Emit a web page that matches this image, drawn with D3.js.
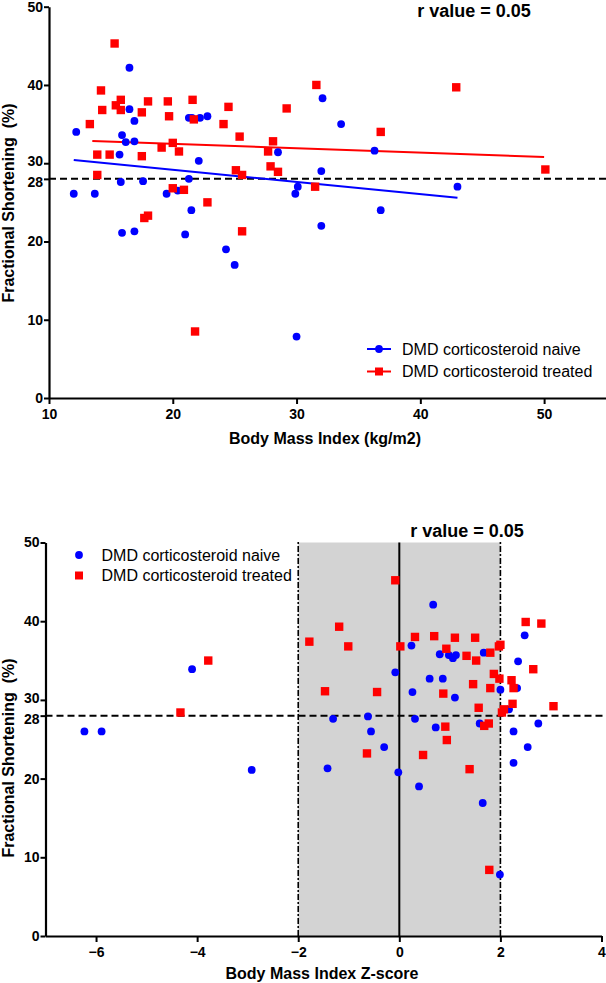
<!DOCTYPE html>
<html>
<head>
<meta charset="utf-8">
<script src="https://cdn.jsdelivr.net/npm/d3@7"></script>
<style>
  body { margin: 0; background: #fff; }
  svg { display: block; }
  text { font-family: "Liberation Sans", Arial, sans-serif; }
</style>
</head>
<body>
<svg id="chart" width="606" height="983"></svg>
<script>
// ---------- DATA ----------
const seriesNames = ["DMD corticosteroid naive", "DMD corticosteroid treated"];
const rText = "r value = 0.05";
const threshold = 28;

// Panel A: BMI (kg/m2) vs fractional shortening (%)
const naiveBMI = [
  [12.0,26.1],[12.2,34.0],[13.7,26.1],[15.7,31.1],[15.9,33.6],[15.8,27.6],[15.9,21.1],
  [16.2,32.7],[16.5,42.2],[16.5,36.9],[16.9,35.4],[16.9,32.8],[16.9,21.3],[17.6,27.7],
  [19.5,26.1],[20.4,26.5],[21.0,20.9],[21.3,28.0],[21.5,24.0],[21.3,35.8],[21.55,35.8],
  [22.2,35.8],[22.8,36.0],[22.1,30.3],[24.3,19.0],[25.0,17.0],[28.5,31.4],[29.9,26.1],
  [30.1,27.0],[30.0,7.85],[32.0,29.0],[32.1,38.3],[32.0,22.0],[33.6,35.0],[36.3,31.6],
  [36.8,24.0],[43.0,27.0]
];
const treatedBMI = [
  [15.3,45.3],[13.3,35.0],[14.2,39.3],[14.3,36.8],[13.9,31.1],[13.9,28.5],[14.9,31.1],
  [15.4,37.4],[15.8,38.1],[15.8,36.8],[17.5,36.5],[17.5,30.9],[17.7,23.0],[18.0,23.3],
  [18.0,37.9],[19.1,32.0],[19.6,37.9],[19.7,36.0],[20.0,32.6],[20.0,26.8],[20.5,31.5],
  [20.9,26.6],[21.6,38.1],[21.7,35.6],[21.8,8.5],[22.8,25.0],[24.1,35.0],[24.5,37.2],
  [25.1,29.1],[25.6,28.5],[25.4,33.4],[25.6,21.3],[27.7,31.5],[27.9,29.6],[28.1,32.8],
  [28.5,28.9],[29.2,37.0],[31.5,27.0],[31.6,40.0],[36.8,34.0],[42.9,39.7],[50.1,29.2]
];
// fitted regression lines (endpoints)
const naiveFit = [[12.0,30.4],[43.0,25.6]];
const treatedFit = [[13.5,32.85],[50.0,30.8]];

// Panel B: BMI Z-score vs fractional shortening (%)
const naiveZ = [
  [-6.23,26.0],[-5.89,26.0],[-4.10,33.9],[-2.92,21.1],[-1.42,21.3],[-1.31,27.6],[-0.62,27.9],
  [-0.56,26.0],[-0.30,24.0],[-0.08,33.5],[-0.02,20.8],[0.24,36.9],[0.26,31.0],[0.31,27.6],
  [0.39,19.0],[0.60,32.7],[0.67,42.1],[0.72,26.5],[0.80,35.8],[0.86,32.7],[0.98,35.7],
  [1.06,35.3],[1.12,35.7],[1.10,30.3],[1.59,27.0],[1.65,16.9],[1.67,36.0],[2.00,31.3],
  [1.99,7.8],[2.17,28.8],[2.26,26.0],[2.26,22.0],[2.35,34.9],[2.33,31.5],[2.48,38.2],
  [2.54,24.0],[2.75,27.0]
];
const treatedZ = [
  [-4.33,28.4],[-3.78,35.0],[-1.78,37.4],[-1.47,31.1],[-1.19,39.3],[-1.01,36.8],[-0.64,23.2],
  [-0.44,31.0],[-0.08,45.2],[0.02,36.8],[0.31,38.0],[0.47,23.0],[0.69,38.1],[0.87,30.8],
  [0.91,26.6],[0.93,36.5],[0.94,24.9],[1.10,37.9],[1.33,35.6],[1.39,21.2],[1.46,32.0],
  [1.50,37.9],[1.52,35.0],[1.57,29.0],[1.68,26.7],[1.77,27.0],[1.78,8.4],[1.80,36.0],
  [1.80,31.5],[1.87,33.3],[1.98,32.7],[2.00,37.0],[1.97,36.8],[2.03,28.4],[2.07,28.8],
  [2.22,32.5],[2.26,31.5],[2.24,29.5],[2.50,39.9],[2.65,33.9],[2.81,39.7],[3.05,29.2]
];
const zBand = [-2, 2];
const zCenter = 0;

const yTicks = [0, 10, 20, 28, 30, 40, 50];
const xTicksBMI = [10, 20, 30, 40, 50];
const xTicksZ = [-6, -4, -2, 0, 2, 4];

// ---------- DRAW ----------
const svg = d3.select("#chart");
const BLUE = "#0000ff", RED = "#ff0000";

function drawPanel(cfg) {
  const g = svg.append("g");
  const x = d3.scaleLinear().domain(cfg.xDomain).range(cfg.xRange);
  const y = d3.scaleLinear().domain([0, 50]).range(cfg.yRange);

  if (cfg.band) {
    g.append("rect")
      .attr("x", x(cfg.band[0])).attr("y", y(50))
      .attr("width", x(cfg.band[1]) - x(cfg.band[0]))
      .attr("height", y(0) - y(50))
      .attr("fill", "#d3d3d3");
    cfg.band.forEach(v => {
      g.append("line")
        .attr("x1", x(v)).attr("x2", x(v))
        .attr("y1", y(0)).attr("y2", y(50) - 2)
        .attr("stroke", "#000").attr("stroke-width", 1.6)
        .attr("stroke-dasharray", "6,2,2,2");
    });
    g.append("line")
      .attr("x1", x(cfg.center)).attr("x2", x(cfg.center))
      .attr("y1", y(0)).attr("y2", y(50))
      .attr("stroke", "#000").attr("stroke-width", 2);
  }

  // threshold dashed line
  g.append("line")
    .attr("x1", cfg.xRange[0]).attr("x2", 606)
    .attr("y1", y(threshold)).attr("y2", y(threshold))
    .attr("stroke", "#000").attr("stroke-width", 2)
    .attr("stroke-dasharray", "7,4");

  // fit lines
  if (cfg.fits) {
    const line = d3.line().x(d => x(d[0])).y(d => y(d[1]));
    cfg.fits.forEach((f, i) => {
      g.append("path").attr("d", line(f))
        .attr("fill", "none").attr("stroke", i === 0 ? BLUE : RED)
        .attr("stroke-width", 2);
    });
  }

  // points
  g.selectAll("circle.n").data(cfg.naive).join("circle")
    .attr("cx", d => x(d[0])).attr("cy", d => y(d[1]))
    .attr("r", 3.9).attr("fill", BLUE);
  const s = 8.4;
  g.selectAll("rect.t").data(cfg.treated).join("rect")
    .attr("x", d => x(d[0]) - s / 2).attr("y", d => y(d[1]) - s / 2)
    .attr("width", s).attr("height", s).attr("fill", RED);

  // axes
  const xAxis = g.append("g").attr("transform", `translate(0,${cfg.yRange[0]})`)
    .call(d3.axisBottom(x).tickValues(cfg.xTicks).tickSize(6).tickSizeOuter(0).tickFormat(d3.format("d")));
  const yAxis = g.append("g").attr("transform", `translate(${cfg.xRange[0]},0)`)
    .call(d3.axisLeft(y).tickValues(yTicks).tickSize(5).tickSizeOuter(0));
  [xAxis, yAxis].forEach(a => {
    a.select(".domain").attr("stroke", "#000").attr("stroke-width", 2.2);
    a.selectAll(".tick line").attr("stroke", "#000").attr("stroke-width", 2);
    a.selectAll(".tick text").attr("fill", "#000")
      .style("font-size", "14px").style("font-weight", "bold")
      .style("font-family", "'Liberation Sans', Arial, sans-serif");
  });
  xAxis.selectAll(".tick text").attr("dy", "0.9em").attr("y", 8);
  yAxis.selectAll(".tick text").attr("x", -6);
  yAxis.selectAll(".tick").filter(d => d === 28).select("text").attr("dy", "0.55em");
  yAxis.selectAll(".tick").filter(d => d === 30).select("text").attr("dy", "0.15em");

  // titles
  g.append("text").attr("x", cfg.titleX).attr("y", cfg.titleY)
    .attr("text-anchor", "middle").style("font-size", "18px").style("font-weight", "bold")
    .text(rText);
  g.append("text").attr("x", cfg.xLabelX).attr("y", cfg.xLabelY)
    .attr("text-anchor", "middle").style("font-size", "16px").style("font-weight", "bold")
    .text(cfg.xLabel);
  g.append("text")
    .attr("transform", `translate(14,${cfg.yLabelY}) rotate(-90)`)
    .attr("text-anchor", "middle").style("font-size", "16px").style("font-weight", "bold")
    .text("Fractional Shortening\u00a0\u00a0(%)");

  // legend
  const lg = g.append("g");
  seriesNames.forEach((name, i) => {
    const ly = cfg.legendY + i * cfg.legendGap;
    if (cfg.legendLines) {
      lg.append("line").attr("x1", cfg.legendX - 12).attr("x2", cfg.legendX + 12)
        .attr("y1", ly).attr("y2", ly)
        .attr("stroke", i === 0 ? BLUE : RED).attr("stroke-width", 2);
    }
    if (i === 0) {
      lg.append("circle").attr("cx", cfg.legendX).attr("cy", ly).attr("r", 3.9).attr("fill", BLUE);
    } else {
      lg.append("rect").attr("x", cfg.legendX - 4).attr("y", ly - 4)
        .attr("width", 8).attr("height", 8).attr("fill", RED);
    }
    lg.append("text").attr("x", cfg.legendTextX).attr("y", ly).attr("dy", "0.35em")
      .style("font-size", "16px").text(name);
  });
}

drawPanel({
  xDomain: [10, 55], xRange: [49, 606], yRange: [398, 6.7],
  naive: naiveBMI, treated: treatedBMI, fits: [naiveFit, treatedFit],
  xTicks: xTicksBMI, xLabel: "Body Mass Index (kg/m2)",
  titleX: 474, titleY: 17, xLabelX: 325, xLabelY: 444, yLabelY: 203,
  legendX: 379, legendY: 349, legendGap: 22.5, legendTextX: 402, legendLines: true
});

drawPanel({
  xDomain: [-7, 4], xRange: [45.5, 601.5], yRange: [936, 542.5],
  naive: naiveZ, treated: treatedZ, band: zBand, center: zCenter,
  xTicks: xTicksZ, xLabel: "Body Mass Index Z-score",
  titleX: 467, titleY: 537, xLabelX: 322, xLabelY: 979, yLabelY: 758,
  legendX: 79, legendY: 555, legendGap: 20.5, legendTextX: 101.5, legendLines: false
});
</script>
</body>
</html>
